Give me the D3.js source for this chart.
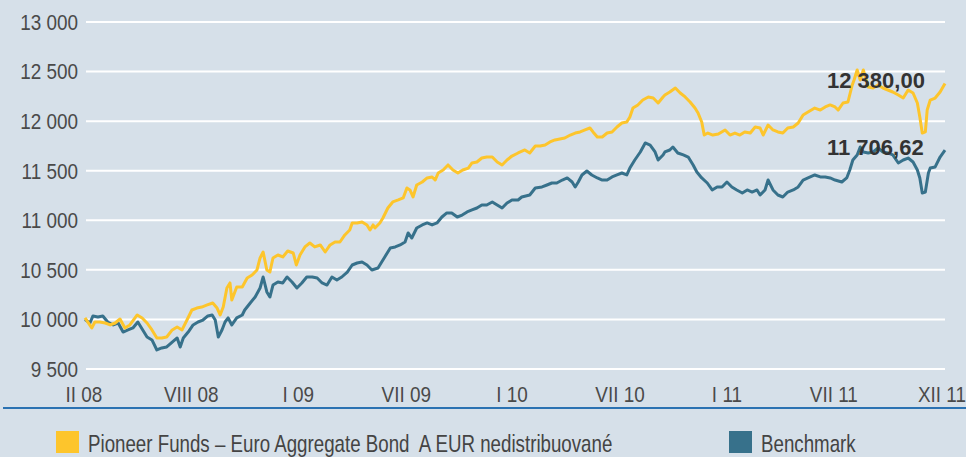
<!doctype html>
<html>
<head>
    <style>
        body { margin: 0; background: #d6e0e9; }
        svg { display: block; font-family: "Liberation Sans", Arial, sans-serif; }
        .grid line { stroke: #ffffff; stroke-width: 2; }
        .tick-label { fill: #4a4a4a; font-size: 22px; }
        .legend-label { fill: #444444; font-size: 24px; }
        .value-label { fill: #333333; font-size: 22px; font-weight: bold; }
    </style>
    <script src="https://d3js.org/d3.v7.min.js"></script>
</head>
<body>
<svg width="966" height="457"></svg>
<script>

    // days from start of the period (II 08) and index values
    var fundDays = [0,11,16,24,33,41,49,57,65,73,85,93,101,109,117,125,133,142,150,158,166,174,182,190,199,208,215,220,225,231,236,239,247,256,264,272,280,285,290,296,301,306,314,322,330,339,344,350,358,366,374,383,391,399,407,415,423,431,435,443,451,459,464,469,472,480,485,493,501,510,518,524,529,534,540,549,557,565,570,575,583,591,599,607,615,624,630,638,646,654,663,671,679,687,695,705,716,724,733,741,749,757,765,773,781,790,798,806,814,822,827,834,842,850,858,866,874,882,887,892,900,908,917,925,933,941,944,952,961,969,977,985,993,998,1004,1008,1014,1022,1031,1042,1050,1058,1066,1074,1083,1091,1099,1104,1112,1120,1128,1136,1144,1153,1161,1169,1177,1188,1197,1205,1213,1221,1226,1234,1242,1249,1252,1257,1262,1267,1275,1283,1291,1299,1307,1315,1324,1332,1340,1348,1355,1359,1363,1368,1371,1376,1384,1392,1400];
    var fundValues = [10015,9914,9974,9974,9964,9944,9964,10004,9914,9944,10045,10015,9964,9894,9813,9813,9823,9894,9924,9894,9994,10095,10115,10125,10146,10166,10115,10045,10125,10317,10368,10196,10327,10327,10418,10448,10499,10620,10680,10499,10478,10620,10650,10630,10690,10670,10549,10650,10731,10771,10731,10751,10680,10751,10781,10781,10852,10902,10973,10973,10983,10953,10902,10953,10922,10973,11023,11124,11185,11205,11225,11326,11306,11235,11356,11386,11427,11437,11406,11477,11507,11558,11507,11477,11507,11527,11578,11588,11628,11638,11638,11588,11558,11608,11648,11679,11709,11679,11749,11749,11759,11790,11810,11820,11830,11860,11880,11891,11911,11931,11891,11840,11840,11880,11891,11941,11981,11991,12042,12132,12163,12213,12244,12233,12183,12244,12264,12294,12334,12284,12244,12193,12132,12082,11991,11860,11880,11860,11870,11911,11860,11880,11860,11891,11880,11941,11931,11860,11961,11911,11891,11880,11931,11941,11981,12062,12092,12132,12112,12143,12163,12143,12112,12183,12193,12365,12415,12516,12415,12516,12344,12334,12365,12334,12314,12294,12264,12233,12314,12284,12183,12042,11880,11891,12112,12213,12233,12294,12380];

    var benchDays = [0,8,13,21,29,37,46,54,62,70,78,86,93,101,109,117,125,133,142,150,155,160,168,176,184,192,200,207,212,217,223,228,233,239,247,256,260,269,277,285,290,296,301,306,314,322,329,337,345,353,361,370,378,386,394,402,410,418,427,435,443,451,459,467,477,488,497,505,513,521,526,532,540,549,557,565,573,581,589,597,606,614,622,630,638,646,654,663,671,679,687,695,705,711,724,733,744,752,760,768,777,785,793,798,803,809,817,825,834,842,850,858,866,874,882,887,895,904,912,920,928,933,941,944,952,957,965,974,982,990,996,1004,1013,1021,1029,1037,1045,1053,1061,1070,1078,1086,1094,1099,1107,1112,1120,1128,1136,1144,1153,1161,1169,1177,1188,1197,1205,1213,1221,1232,1240,1245,1250,1257,1262,1267,1275,1283,1291,1299,1307,1315,1324,1332,1340,1348,1355,1359,1363,1368,1373,1376,1384,1392,1400];
    var benchValues = [10000,9964,10035,10025,10035,9974,9944,9964,9873,9894,9914,9974,9904,9823,9793,9692,9712,9722,9772,9813,9722,9813,9873,9944,9974,9994,10035,10045,9994,9823,9894,9974,10015,9944,10015,10045,10095,10166,10226,10317,10428,10277,10226,10347,10378,10368,10428,10378,10317,10368,10428,10428,10418,10368,10347,10428,10398,10428,10478,10549,10569,10579,10549,10499,10519,10630,10721,10731,10751,10781,10872,10821,10922,10953,10973,10953,10973,11033,11074,11074,11033,11053,11084,11104,11124,11154,11154,11185,11154,11124,11174,11205,11205,11235,11255,11326,11336,11356,11376,11376,11406,11427,11386,11336,11386,11457,11497,11457,11427,11406,11406,11437,11457,11477,11457,11527,11608,11689,11780,11759,11689,11608,11659,11689,11709,11739,11679,11659,11638,11558,11487,11427,11376,11306,11336,11336,11386,11336,11306,11275,11306,11285,11306,11255,11306,11406,11306,11255,11235,11285,11306,11336,11406,11427,11457,11437,11437,11427,11406,11386,11427,11507,11608,11659,11739,11689,11679,11689,11729,11689,11679,11659,11578,11608,11628,11588,11507,11427,11275,11285,11477,11527,11538,11638,11707];

    var xTickDays = [-2, 173, 347, 523, 695, 871, 1045, 1219, 1395];
    var xTickLabels = ["II 08", "VIII 08", "I 09", "VII 09", "I 10", "VII 10", "I 11", "VII 11", "XII 11"];
    var yTicks = [9500, 10000, 10500, 11000, 11500, 12000, 12500, 13000];
    var seriesNames = ["Pioneer Funds \u2013 Euro Aggregate Bond\u00a0 A EUR nedistribuované", "Benchmark"];
    var seriesColors = ["#fdc52c", "#37718b"];
    var lastLabels = ["12 380,00", "11 706,62"];

    var svg = d3.select("svg");

    var x = d3.scaleLinear().domain([0, 1400]).range([85, 945]);
    var y = d3.scaleLinear().domain([9500, 13000]).range([369, 22]);

    var fmt = function(v) { return d3.format(",")(v).replace(",", " "); };

    // the original uses a narrow font, fake it with a horizontal squeeze
    var tickSqueeze = 0.86, legendSqueeze = 0.78;
    function place(px, py, s) { return "translate(" + px + "," + py + ") scale(" + s + ",1)"; }

    // horizontal grid
    svg.append("g").attr("class", "grid")
       .selectAll("line")
       .data(yTicks)
       .enter().append("line")
       .attr("x1", 86)
       .attr("x2", 945)
       .attr("y1", function(d) { return y(d); })
       .attr("y2", function(d) { return y(d); });

    // y labels
    svg.append("g")
       .selectAll("text")
       .data(yTicks)
       .enter().append("text")
       .attr("class", "tick-label")
       .attr("transform", function(d) { return place(78, y(d), tickSqueeze); })
       .attr("dy", "0.36em")
       .attr("text-anchor", "end")
       .text(fmt);

    // x labels
    svg.append("g")
       .selectAll("text")
       .data(xTickDays)
       .enter().append("text")
       .attr("class", "tick-label")
       .attr("transform", function(d) { return place(x(d), 402, tickSqueeze); })
       .attr("text-anchor", "middle")
       .text(function(d, i) { return xTickLabels[i]; });

    svg.append("line")
       .attr("x1", 3).attr("x2", 966)
       .attr("y1", 408).attr("y2", 408)
       .attr("stroke", "#2b72b2")
       .attr("stroke-width", 2);

    var line = d3.line()
        .x(function(d) { return x(d[0]); })
        .y(function(d) { return y(d[1]); });

    var fund = d3.zip(fundDays, fundValues),
        bench = d3.zip(benchDays, benchValues);

    [bench, fund].forEach(function(s, i) {
        svg.append("path")
           .datum(s)
           .attr("fill", "none")
           .attr("stroke", seriesColors[1 - i])
           .attr("stroke-width", 3)
           .attr("stroke-linejoin", "round")
           .attr("d", line);
    });

    // end values
    svg.selectAll(".value-label")
       .data([fundValues[fundValues.length - 1], benchValues[benchValues.length - 1]])
       .enter().append("text")
       .attr("class", "value-label")
       .attr("x", 827)
       .attr("y", function(d) { return y(d) + 5; })
       .text(function(d, i) { return lastLabels[i]; });

    // legend
    var legendX = [56, 729];
    var lg = svg.selectAll(".legend")
        .data(seriesNames)
        .enter().append("g")
        .attr("transform", function(d, i) { return "translate(" + legendX[i] + ",431)"; });

    lg.append("rect")
      .attr("width", 23)
      .attr("height", 22)
      .attr("fill", function(d, i) { return seriesColors[i]; });

    lg.append("text")
      .attr("class", "legend-label")
      .attr("transform", place(32, 21, legendSqueeze))
      .text(function(d) { return d; });

</script>
</body>
</html>
